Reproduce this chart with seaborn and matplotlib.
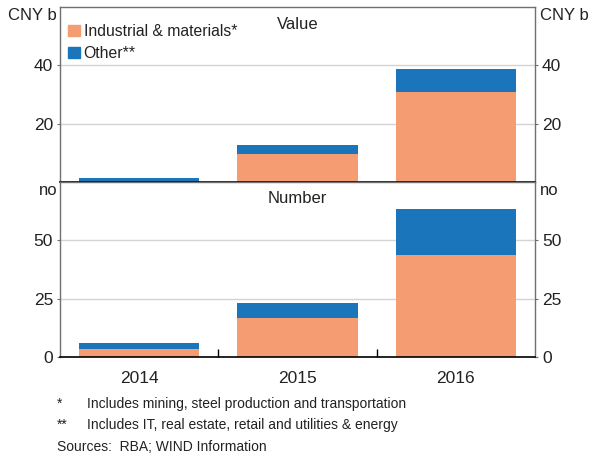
import matplotlib
matplotlib.use("Agg")
import pandas as pd
import matplotlib.pyplot as plt
import seaborn as sns


years = ["2014", "2015", "2016"]

# CNY b
value_industrial = [0.0, 9.7, 30.8]
value_other = [1.5, 2.9, 7.8]

# number of deals
number_industrial = [3.4, 16.8, 43.8]
number_other = [2.6, 6.5, 19.6]

ORANGE = "#F69C73"
BLUE = "#1B75BB"
GRID = "#d3d3d3"
FRAME = "#707070"
TEXT = "#222222"

sns.set_style("white")
plt.rcParams["font.family"] = ["Liberation Sans", "DejaVu Sans"]
plt.rcParams["text.color"] = TEXT
plt.rcParams["xtick.labelcolor"] = TEXT
plt.rcParams["ytick.labelcolor"] = TEXT


def stacked_panel(ax, industrial, other, ymax, ticks, unit, title, title_y):
    df = pd.DataFrame({
        "year": years,
        "industrial": industrial,
        "total": [a + b for a, b in zip(industrial, other)],
    })

    sns.barplot(data=df, x="year", y="total", color=BLUE, saturation=1,
                width=0.76, linewidth=0, ax=ax)
    sns.barplot(data=df, x="year", y="industrial", color=ORANGE, saturation=1,
                width=0.76, linewidth=0, ax=ax)

    ax.set_xlim(-0.5, 2.5)
    ax.set_ylim(0, ymax)
    ax.set_yticks(ticks)
    ax.set_xlabel("")
    ax.set_ylabel("")

    ax.yaxis.grid(True, color=GRID, linewidth=1)
    ax.set_axisbelow(True)

    ax.tick_params(axis="y", which="major", left=True, right=True,
                   labelleft=True, labelright=True, direction="out",
                   length=2, width=0.8, color=FRAME, pad=3, labelsize=12.5)

    for side in ["left", "right", "top"]:
        ax.spines[side].set_color(FRAME)
        ax.spines[side].set_linewidth(1)
    ax.spines["bottom"].set_color("black")
    ax.spines["bottom"].set_linewidth(1.2)

    ax.text(-0.006, 0.954, unit, transform=ax.transAxes, ha="right",
            va="center", fontsize=12)
    ax.text(1.01, 0.954, unit, transform=ax.transAxes, ha="left",
            va="center", fontsize=12)
    ax.text(0.5, title_y, title, transform=ax.transAxes, ha="center",
            va="center", fontsize=12)


fig = plt.figure(figsize=(5.9, 4.55), dpi=100)
ax_top = fig.add_axes([0.1017, 0.6, 0.805, 0.3846])
ax_bot = fig.add_axes([0.1017, 0.2154, 0.805, 0.3846])

stacked_panel(ax_top, value_industrial, value_other, 60, [20, 40],
              "CNY b", "Value", 0.9)
stacked_panel(ax_bot, number_industrial, number_other, 75, [0, 25, 50],
              "no", "Number", 0.908)

ax_top.tick_params(axis="x", bottom=False, labelbottom=False)

ax_bot.set_xticks([0, 1, 2])
ax_bot.set_xticklabels(years)
ax_bot.set_xticks([0.5, 1.5], minor=True)
ax_bot.tick_params(axis="x", which="major", length=0, pad=10, labelsize=12.5)
ax_bot.tick_params(axis="x", which="minor", bottom=True, direction="in",
                   length=6, width=1, color="black")

handles = [
    plt.Rectangle((0, 0), 1, 1, color=ORANGE),
    plt.Rectangle((0, 0), 1, 1, color=BLUE),
]
ax_top.legend(handles, ["Industrial & materials*", "Other**"],
              loc="upper left", bbox_to_anchor=(0.0, 0.948), frameon=False,
              fontsize=11.3, handlelength=0.75, handleheight=0.75,
              handletextpad=0.25, labelspacing=0.45, borderaxespad=0.3,
              borderpad=0.2)

fig.text(57 / 590, 1 - 404 / 455, "*", fontsize=10, va="center")
fig.text(87 / 590, 1 - 404 / 455,
         "Includes mining, steel production and transportation",
         fontsize=10, va="center")
fig.text(57 / 590, 1 - 425 / 455, "**", fontsize=10, va="center")
fig.text(87 / 590, 1 - 425 / 455,
         "Includes IT, real estate, retail and utilities & energy",
         fontsize=10, va="center")
fig.text(57 / 590, 1 - 447 / 455, "Sources:  RBA; WIND Information",
         fontsize=10, va="center")

fig.savefig("out.png", dpi=100)
plt.close(fig)
